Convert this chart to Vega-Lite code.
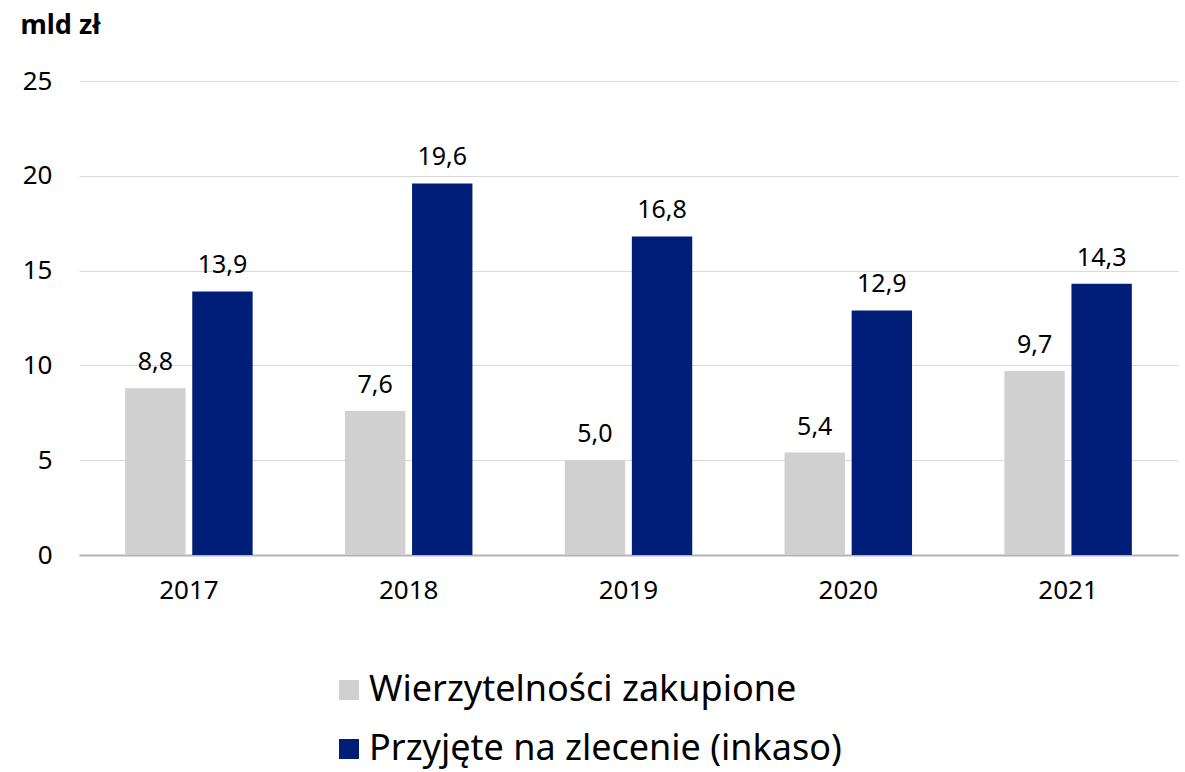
{
  "$schema": "https://vega.github.io/schema/vega-lite/v6.json",
  "autosize": {"type": "none"},
  "width": 1099,
  "height": 474,
  "padding": {"left": 79, "top": 81, "right": 7, "bottom": 217},
  "background": "white",
  "config": {
    "font": "Noto Sans",
    "view": {"stroke": null}
  },
  "data": {
    "values": [
      {"rok": "2017", "seria": "Wierzytelności zakupione", "wartosc": 8.8, "etykieta": "8,8"},
      {"rok": "2017", "seria": "Przyjęte na zlecenie (inkaso)", "wartosc": 13.9, "etykieta": "13,9"},
      {"rok": "2018", "seria": "Wierzytelności zakupione", "wartosc": 7.6, "etykieta": "7,6"},
      {"rok": "2018", "seria": "Przyjęte na zlecenie (inkaso)", "wartosc": 19.6, "etykieta": "19,6"},
      {"rok": "2019", "seria": "Wierzytelności zakupione", "wartosc": 5.0, "etykieta": "5,0"},
      {"rok": "2019", "seria": "Przyjęte na zlecenie (inkaso)", "wartosc": 16.8, "etykieta": "16,8"},
      {"rok": "2020", "seria": "Wierzytelności zakupione", "wartosc": 5.4, "etykieta": "5,4"},
      {"rok": "2020", "seria": "Przyjęte na zlecenie (inkaso)", "wartosc": 12.9, "etykieta": "12,9"},
      {"rok": "2021", "seria": "Wierzytelności zakupione", "wartosc": 9.7, "etykieta": "9,7"},
      {"rok": "2021", "seria": "Przyjęte na zlecenie (inkaso)", "wartosc": 14.3, "etykieta": "14,3"}
    ]
  },
  "encoding": {
    "x": {
      "field": "rok",
      "type": "nominal",
      "scale": {"paddingInner": 0.42, "paddingOuter": 0.21},
      "axis": {
        "title": null,
        "labelAngle": 0,
        "labelFontSize": 26,
        "labelColor": "#000000",
        "labelPadding": 22,
        "ticks": false,
        "domainColor": "#b3b3b3",
        "domainWidth": 2,
        "grid": false
      }
    },
    "xOffset": {
      "field": "seria",
      "type": "nominal",
      "sort": ["Wierzytelności zakupione", "Przyjęte na zlecenie (inkaso)"],
      "scale": {"paddingInner": 0.1, "paddingOuter": 0}
    },
    "y": {
      "field": "wartosc",
      "type": "quantitative",
      "scale": {"domain": [0, 25]},
      "axis": {
        "values": [0, 5, 10, 15, 20, 25],
        "title": "mld zł",
        "titleAngle": 0,
        "titleFontSize": 27,
        "titleFontWeight": "bold",
        "titleColor": "#000000",
        "titleAlign": "left",
        "titleBaseline": "alphabetic",
        "titleX": -59,
        "titleY": -48,
        "labelFontSize": 26,
        "labelColor": "#000000",
        "labelPadding": 27,
        "ticks": false,
        "domain": false,
        "grid": true,
        "gridColor": "#d9d9d9",
        "gridWidth": 1
      }
    }
  },
  "layer": [
    {
      "mark": {"type": "bar"},
      "encoding": {
        "color": {
          "field": "seria",
          "type": "nominal",
          "sort": ["Wierzytelności zakupione", "Przyjęte na zlecenie (inkaso)"],
          "scale": {"range": ["#d0d0d0", "#001e78"]},
          "legend": {
            "title": null,
            "orient": "none",
            "legendX": 252,
            "legendY": 591,
            "padding": 0,
            "direction": "vertical",
            "symbolType": "square",
            "symbolSize": 400,
            "symbolStrokeWidth": 0,
            "symbolOpacity": 1,
            "labelFontSize": 36,
            "labelColor": "#000000",
            "labelOffset": 2,
            "rowPadding": 23,
            "labelLimit": 800
          }
        }
      }
    },
    {
      "mark": {"type": "text", "baseline": "alphabetic", "align": "center", "dy": -18, "fontSize": 25, "color": "#000000"},
      "encoding": {
        "text": {"field": "etykieta"}
      }
    }
  ]
}
